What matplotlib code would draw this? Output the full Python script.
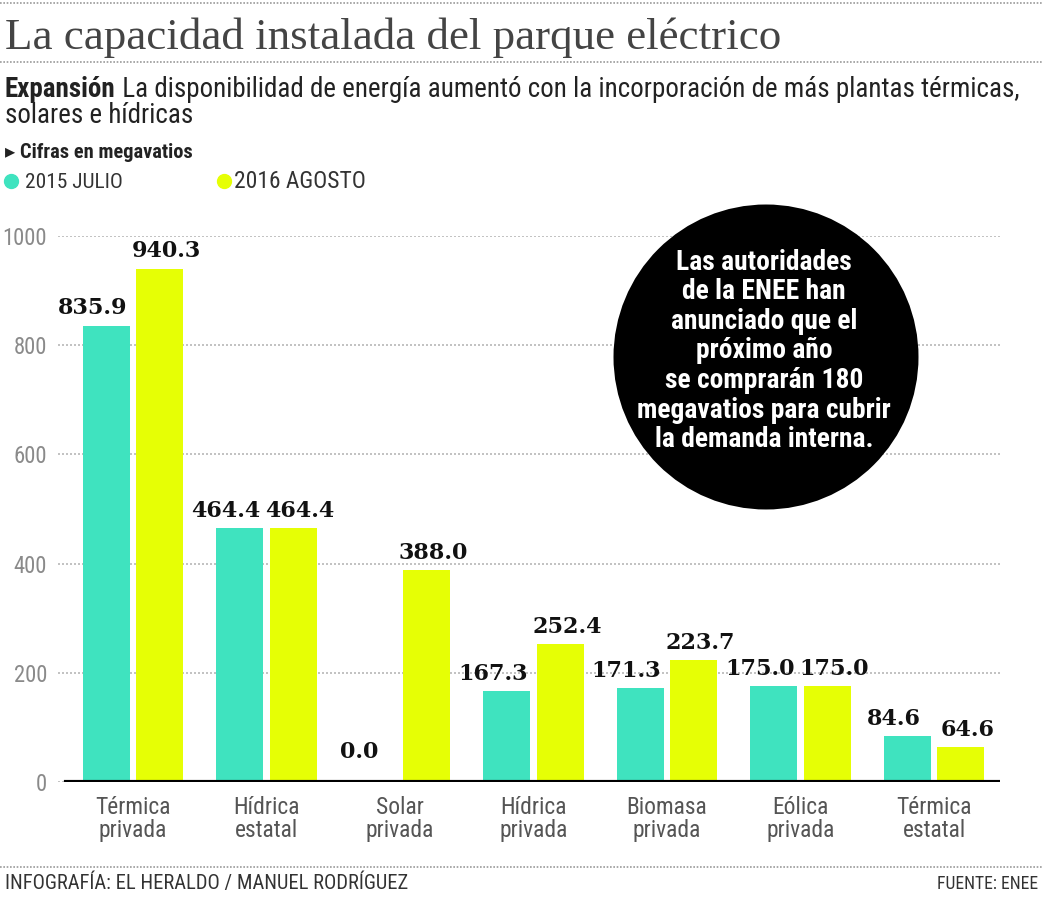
import matplotlib.pyplot as plt
import numpy as np
from matplotlib import font_manager as fm
from matplotlib.lines import Line2D
from matplotlib.patches import Ellipse

# data
categorias = ['Térmica\nprivada', 'Hídrica\nestatal', 'Solar\nprivada', 'Hídrica\nprivada',
              'Biomasa\nprivada', 'Eólica\nprivada', 'Térmica\nestatal']
julio_2015 = [835.9, 464.4, 0.0, 167.3, 171.3, 175.0, 84.6]
agosto_2016 = [940.3, 464.4, 388.0, 252.4, 223.7, 175.0, 64.6]
y_ticks = [0, 200, 400, 600, 800, 1000]

TEAL = '#3fe3bf'
YELLOW = '#e6ff05'

# pick a narrow sans if there is one, else Roboto (sizes get fitted to widths below)
_fonts = {(f.name, f.stretch) for f in fm.fontManager.ttflist}
_names = {n for n, _ in _fonts}
COND, STRETCH = 'Roboto', 'normal'
for cand in ['Liberation Sans Narrow', 'Roboto Condensed', 'Open Sans Condensed']:
    if cand in _names:
        COND = cand
        break
else:
    if ('DejaVu Sans', 'condensed') in _fonts or ('DejaVu Sans', 'semi-condensed') in _fonts:
        COND, STRETCH = 'DejaVu Sans', 'condensed'
FAM = [COND, 'DejaVu Sans']

W, H = 1042, 900
fig = plt.figure(figsize=(W / 100, H / 100), dpi=100)


def fy(px):
    return 1 - px / H


def fx(px):
    return px / W


def txt(xp, yp, s, **kw):
    kw.setdefault('family', FAM)
    kw.setdefault('stretch', STRETCH)
    return fig.text(fx(xp), fy(yp), s, **kw)


# main axes
ax = fig.add_axes([fx(58), fy(782), fx(1000) - fx(58), fy(236) - fy(782)])
x = np.arange(len(categorias))
w = 0.352
ax.bar(x - 0.2, julio_2015, w, color=TEAL, zorder=3)
ax.bar(x + 0.2, agosto_2016, w, color=YELLOW, zorder=3)

for xi, v in zip(x - 0.2, julio_2015):
    ax.annotate(f'{v:.1f}', (xi, v), xytext=(-10, 17 if v == 0 else 8),
                textcoords='offset points', ha='center', va='baseline', fontsize=16,
                fontweight='bold', family='DejaVu Serif', color='#111111', zorder=5)
for xi, v in zip(x + 0.2, agosto_2016):
    ax.annotate(f'{v:.1f}', (xi, v), xytext=(5, 8), textcoords='offset points',
                ha='center', va='baseline', fontsize=16, fontweight='bold',
                family='DejaVu Serif', color='#111111', zorder=5)

ax.set_xlim(-0.562, 6.494)
ax.set_ylim(0, 1000)
ax.set_yticks(y_ticks)
ax.set_yticklabels([str(t) for t in y_ticks], family=FAM, stretch=STRETCH,
                   fontsize=14, color='#8a8a8a')
ax.set_xticks(x)
ax.set_xticklabels(categorias, family=FAM, stretch=STRETCH, fontsize=14,
                   color='#555555', linespacing=1.0)
ax.tick_params(axis='both', length=0)
ax.tick_params(axis='y', pad=8)
ax.tick_params(axis='x', pad=10)
for s in ax.spines.values():
    s.set_visible(False)
ax.grid(axis='y', color='#b8b8b8', linestyle=(0, (1.2, 1.2)), linewidth=1.2, zorder=0)
ax.axhline(0, xmin=0.0085, xmax=1, color='black', linewidth=3, zorder=4)
ax.patch.set_alpha(0)

# black circle with note
circ = Ellipse((fx(766), fy(357)), 305 / W, 305 / H, transform=fig.transFigure,
               facecolor='black', edgecolor='none', zorder=10)
fig.add_artist(circ)
nota = ('Las autoridades\nde la ENEE han\nanunciado que el\npróximo año\n'
        'se comprarán 180\nmegavatios para cubrir\nla demanda interna.')
t_nota = txt(764, 351, nota, ha='center', va='center', color='white', fontsize=15,
             fontweight='semibold', linespacing=1.12, zorder=11)

# header / footer separators
for yy in (3, 62, 867):
    fig.add_artist(Line2D([0, 1], [fy(yy), fy(yy)], transform=fig.transFigure,
                          color='#9a9a9a', linestyle=(0, (1, 1)), linewidth=1.2))
t_title = fig.text(fx(5), fy(49), 'La capacidad instalada del parque eléctrico', ha='left',
                   va='baseline', fontsize=30, family='Liberation Serif', color='#444444')

t_exp = txt(5, 97, 'Expansión', ha='left', va='baseline', fontsize=17,
            fontweight='bold', color='#222222')
t_rest = txt(60, 97, ' La disponibilidad de energía aumentó con la incorporación de más plantas térmicas,',
             ha='left', va='baseline', fontsize=17, color='#222222')
t_sol = txt(5, 123, 'solares e hídricas', ha='left', va='baseline', fontsize=17,
            color='#222222')

t_cif = txt(5, 158, '▸ Cifras en megavatios', ha='left', va='baseline', fontsize=11.5,
            fontweight='bold', color='#222222')

fig.add_artist(Line2D([fx(11)], [fy(181)], marker='o', markersize=10, color=TEAL,
                      transform=fig.transFigure))
t_l1 = txt(25, 188, '2015 JULIO', ha='left', va='baseline', fontsize=14, color='#333333')
fig.add_artist(Line2D([fx(224)], [fy(181)], marker='o', markersize=10, color=YELLOW,
                      transform=fig.transFigure))
t_l2 = txt(234, 188, '2016 AGOSTO', ha='left', va='baseline', fontsize=14, color='#333333')

t_f1 = txt(5, 889, 'INFOGRAFÍA: EL HERALDO / MANUEL RODRÍGUEZ', ha='left',
           va='baseline', fontsize=12, color='#333333')
t_f2 = txt(1038, 889, 'FUENTE: ENEE', ha='right', va='baseline', fontsize=12,
           color='#333333')

# fit text sizes to the widths measured on the reference
fig.canvas.draw()
r = fig.canvas.get_renderer()


def width(t):
    return t.get_window_extent(r).width


def fit(t, px):
    t.set_fontsize(t.get_fontsize() * px / width(t))


fit(t_title, 776)
fit(t_nota, 253)
fit(t_cif, 188)
fit(t_l1, 98)
fit(t_l2, 132)
fit(t_f1, 400)
fit(t_f2, 100)

k = 1012 / (width(t_exp) + width(t_rest))
for t in (t_exp, t_rest, t_sol):
    t.set_fontsize(t.get_fontsize() * k)
t_rest.set_position((fx(5 + width(t_exp)), fy(97)))

ys = ax.get_yticklabels()[-1]
ax.tick_params(axis='y', labelsize=14 * 45 / width(ys))
xs = ax.get_xticklabels()[0]
ax.tick_params(axis='x', labelsize=14 * 76 / width(xs))

fig.savefig('out.png', dpi=100, facecolor='white')
